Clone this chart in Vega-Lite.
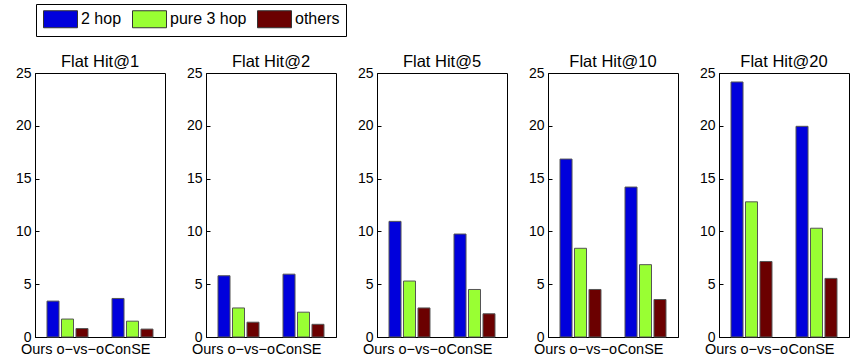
{
  "$schema": "https://vega.github.io/schema/vega-lite/v6.json",
  "padding": {"left": 14, "top": 3, "right": 5, "bottom": 0},
  "background": "white",
  "data": {"values": [
    {"panel": "Flat Hit@1", "method": "Ours o−vs−o", "series": "2 hop", "value": 3.4},
    {"panel": "Flat Hit@1", "method": "Ours o−vs−o", "series": "pure 3 hop", "value": 1.7},
    {"panel": "Flat Hit@1", "method": "Ours o−vs−o", "series": "others", "value": 0.8},
    {"panel": "Flat Hit@1", "method": "ConSE", "series": "2 hop", "value": 3.65},
    {"panel": "Flat Hit@1", "method": "ConSE", "series": "pure 3 hop", "value": 1.5},
    {"panel": "Flat Hit@1", "method": "ConSE", "series": "others", "value": 0.75},
    {"panel": "Flat Hit@2", "method": "Ours o−vs−o", "series": "2 hop", "value": 5.8},
    {"panel": "Flat Hit@2", "method": "Ours o−vs−o", "series": "pure 3 hop", "value": 2.75},
    {"panel": "Flat Hit@2", "method": "Ours o−vs−o", "series": "others", "value": 1.4},
    {"panel": "Flat Hit@2", "method": "ConSE", "series": "2 hop", "value": 5.95},
    {"panel": "Flat Hit@2", "method": "ConSE", "series": "pure 3 hop", "value": 2.35},
    {"panel": "Flat Hit@2", "method": "ConSE", "series": "others", "value": 1.2},
    {"panel": "Flat Hit@5", "method": "Ours o−vs−o", "series": "2 hop", "value": 10.95},
    {"panel": "Flat Hit@5", "method": "Ours o−vs−o", "series": "pure 3 hop", "value": 5.3},
    {"panel": "Flat Hit@5", "method": "Ours o−vs−o", "series": "others", "value": 2.75},
    {"panel": "Flat Hit@5", "method": "ConSE", "series": "2 hop", "value": 9.75},
    {"panel": "Flat Hit@5", "method": "ConSE", "series": "pure 3 hop", "value": 4.5},
    {"panel": "Flat Hit@5", "method": "ConSE", "series": "others", "value": 2.2},
    {"panel": "Flat Hit@10", "method": "Ours o−vs−o", "series": "2 hop", "value": 16.85},
    {"panel": "Flat Hit@10", "method": "Ours o−vs−o", "series": "pure 3 hop", "value": 8.4},
    {"panel": "Flat Hit@10", "method": "Ours o−vs−o", "series": "others", "value": 4.5},
    {"panel": "Flat Hit@10", "method": "ConSE", "series": "2 hop", "value": 14.2},
    {"panel": "Flat Hit@10", "method": "ConSE", "series": "pure 3 hop", "value": 6.85},
    {"panel": "Flat Hit@10", "method": "ConSE", "series": "others", "value": 3.55},
    {"panel": "Flat Hit@20", "method": "Ours o−vs−o", "series": "2 hop", "value": 24.15},
    {"panel": "Flat Hit@20", "method": "Ours o−vs−o", "series": "pure 3 hop", "value": 12.8},
    {"panel": "Flat Hit@20", "method": "Ours o−vs−o", "series": "others", "value": 7.15},
    {"panel": "Flat Hit@20", "method": "ConSE", "series": "2 hop", "value": 19.95},
    {"panel": "Flat Hit@20", "method": "ConSE", "series": "pure 3 hop", "value": 10.3},
    {"panel": "Flat Hit@20", "method": "ConSE", "series": "others", "value": 5.55}
  ]},
  "facet": {
    "column": {
      "field": "panel", "type": "nominal",
      "sort": ["Flat Hit@1", "Flat Hit@2", "Flat Hit@5", "Flat Hit@10", "Flat Hit@20"],
      "header": {"title": null, "labelFontSize": 16.5, "labelFont": "Liberation Sans", "labelColor": "black", "labelPadding": 3}
    }
  },
  "spacing": 41,
  "bounds": "flush",
  "resolve": {"axis": {"y": "independent", "x": "independent"}},
  "spec": {
    "width": 130,
    "height": 264,
    "mark": {"type": "bar", "stroke": "#555555", "strokeWidth": 1},
    "encoding": {
      "x": {
        "field": "method", "type": "nominal", "sort": ["Ours o−vs−o", "ConSE"],
        "scale": {"paddingInner": 0, "paddingOuter": 0},
        "axis": {"title": null, "labelAngle": 0, "labelFontSize": 14.5, "labelFont": "Liberation Sans", "labelColor": "black", "labelPadding": 9, "labelOffset": -5, "tickSize": -4, "tickColor": "black", "domainColor": "black", "labelOverlap": false, "labelBound": false, "labelFlush": false}
      },
      "xOffset": {
        "field": "series", "type": "nominal", "sort": ["2 hop", "pure 3 hop", "others"],
        "scale": {"paddingInner": 0.17, "paddingOuter": 0.83}
      },
      "y": {
        "field": "value", "type": "quantitative",
        "scale": {"domain": [0, 25], "nice": false},
        "axis": {"title": null, "values": [0, 5, 10, 15, 20, 25], "grid": false, "labelFontSize": 14, "labelFont": "Liberation Sans", "labelColor": "black", "labelPadding": 8, "tickSize": -4, "tickColor": "black", "domainColor": "black", "labelFlush": false}
      },
      "color": {
        "field": "series", "type": "nominal",
        "scale": {"domain": ["2 hop", "pure 3 hop", "others"], "range": ["#0000dc", "#99ff33", "#6b0000"]},
        "legend": {
          "title": null, "orient": "none", "legendX": 1, "legendY": -69, "direction": "horizontal",
          "symbolType": "M-2,-1H2V1H-2Z", "symbolSize": 289, "symbolOffset": 9.5, "symbolStrokeColor": "#333333", "symbolStrokeWidth": 1, "symbolOpacity": 1,
          "labelFontSize": 16, "labelFont": "Liberation Sans", "labelColor": "black", "labelOffset": 11.5, "columnPadding": 8,
          "strokeColor": "black", "fillColor": "white", "padding": 6
        }
      }
    }
  },
  "config": {"view": {"stroke": "black", "strokeWidth": 1}, "font": "Liberation Sans"}
}
